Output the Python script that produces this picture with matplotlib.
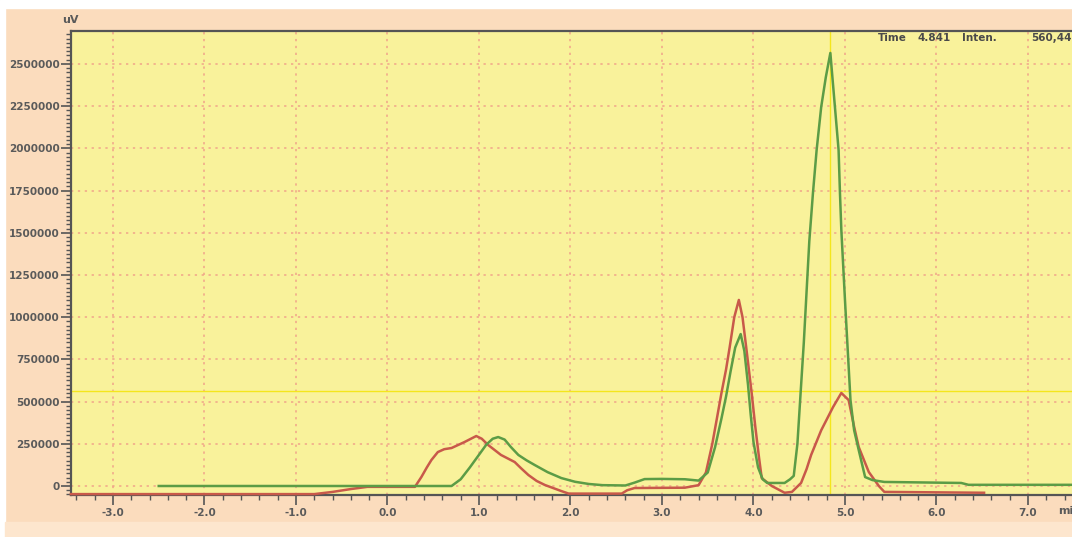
import matplotlib
matplotlib.use("Agg")
import matplotlib.pyplot as plt
from matplotlib.patches import Rectangle
from matplotlib.ticker import MultipleLocator, FormatStrFormatter

# chromatogram traces: retention time (min) and detector signal (uV)
green_t = [-2.50, 0.70, 0.80, 0.90, 1.00, 1.08, 1.15, 1.21, 1.28, 1.35, 1.43, 1.52,
           1.61, 1.75, 1.90, 2.05, 2.20, 2.35, 2.60, 2.70, 2.81, 3.00, 3.25, 3.40,
           3.50, 3.58, 3.65, 3.70, 3.75, 3.80, 3.86, 3.90, 3.94, 3.97, 4.00, 4.05,
           4.10, 4.15, 4.34, 4.40, 4.44, 4.48, 4.51, 4.55, 4.58, 4.61, 4.65, 4.69,
           4.74, 4.79, 4.84, 4.89, 4.93, 4.945, 4.96, 5.00, 5.06, 5.10, 5.15, 5.22,
           5.30, 5.43, 6.27, 6.35, 7.50]
green_uv = [0, 0, 40000, 110000, 185000, 245000, 280000, 290000, 275000, 230000,
            184000, 152000, 124000, 82000, 47000, 25000, 12000, 5000, 3000, 20000,
            41000, 42000, 40000, 32000, 80000, 230000, 400000, 530000, 680000,
            820000, 900000, 800000, 600000, 420000, 260000, 110000, 40000, 18000,
            18000, 40000, 60000, 250000, 509000, 850000, 1150000, 1450000, 1736000,
            1990000, 2245000, 2420000, 2565000, 2245000, 1990000, 1736000, 1517000,
            1100000, 509000, 330000, 213000, 53000, 35000, 24000, 18000, 7000, 7000]

red_t = [-3.46, -0.80, -0.60, -0.40, -0.22, 0.30, 0.37, 0.43, 0.48, 0.55, 0.62,
         0.70, 0.84, 0.97, 1.03, 1.10, 1.24, 1.39, 1.46, 1.54, 1.63, 1.72, 1.90,
         1.98, 2.56, 2.62, 2.70, 3.25, 3.40, 3.48, 3.55, 3.60, 3.65, 3.70, 3.74,
         3.79, 3.84, 3.88, 3.92, 3.98, 4.02, 4.06, 4.09, 4.20, 4.34, 4.42, 4.52,
         4.58, 4.63, 4.74, 4.87, 4.96, 5.00, 5.04, 5.10, 5.15, 5.26, 5.37, 5.43,
         6.52]
red_uv = [-48000, -48000, -35000, -18000, -5000, -5000, 53000, 110000, 154000,
          201000, 218000, 225000, 260000, 296000, 280000, 243000, 184000, 142000,
          105000, 65000, 30000, 6000, -30000, -45000, -45000, -25000, -12000,
          -10000, 5000, 80000, 250000, 400000, 551000, 690000, 823000, 1000000,
          1102000, 1000000, 823000, 551000, 350000, 170000, 47000, 0, -40000,
          -35000, 18000, 100000, 184000, 330000, 468000, 551000, 530000, 509000,
          350000, 231000, 83000, 0, -35000, -40000]

cursor_time = 4.841
cursor_inten = 560447

font = ["Liberation Sans Narrow", "DejaVu Sans"]
label_col = "#5a5a5a"

fig = plt.figure(figsize=(10.72, 5.37), dpi=100)
fig.patch.set_facecolor("#fbdcbd")
# white strip at top/left and lighter band at the bottom of the window
fig.patches.append(Rectangle((0, 1 - 8 / 537), 1, 8 / 537, transform=fig.transFigure,
                             color="white", zorder=0))
fig.patches.append(Rectangle((0, 0), 5 / 1072, 1, transform=fig.transFigure,
                             color="white", zorder=0))
fig.patches.append(Rectangle((5 / 1072, 0), 1, 15 / 537, transform=fig.transFigure,
                             color="#fde6ce", zorder=0))

ax = fig.add_axes([71 / 1072, 1 - 495 / 537, 1 - 71 / 1072, 464 / 537])
ax.set_facecolor("#f9f29b")

ax.set_xlim(-3.459, 7.481)
ax.set_ylim(-53300, 2695000)

ax.xaxis.set_major_locator(MultipleLocator(1.0))
ax.xaxis.set_minor_locator(MultipleLocator(0.2))
ax.yaxis.set_major_locator(MultipleLocator(250000))
ax.yaxis.set_minor_locator(MultipleLocator(25000))
ax.xaxis.set_major_formatter(FormatStrFormatter("%.1f"))
ax.yaxis.set_major_formatter(FormatStrFormatter("%d"))

ax.grid(True, which="major", color="#f0a58a", linestyle=(0, (1.5, 3)), linewidth=1.1)
ax.set_axisbelow(True)

ax.tick_params(axis="both", which="major", direction="out", length=7, width=1.2,
               color="#555555", labelsize=7.5, labelcolor=label_col)
ax.tick_params(axis="both", which="minor", direction="out", length=3.5, width=1.0,
               color="#555555")
ax.tick_params(axis="x", pad=2)
ax.tick_params(axis="y", pad=1)
for lab in ax.get_xticklabels() + ax.get_yticklabels():
    lab.set_family(font)
    lab.set_fontweight("bold")

for side in ["left", "bottom", "top"]:
    ax.spines[side].set_color("#555555")
    ax.spines[side].set_linewidth(1.6)
ax.spines["right"].set_visible(False)

# cursor crosshair
ax.axvline(cursor_time, color="#f4e61c", linewidth=1.0, zorder=2)
ax.axhline(cursor_inten, color="#f4e61c", linewidth=1.0, zorder=2)

ax.plot(red_t, red_uv, color="#c8594a", linewidth=1.8, zorder=3, clip_on=False)
ax.plot(green_t, green_uv, color="#5c9c46", linewidth=1.8, zorder=4)

fig.text(62 / 1072, 1 - 20 / 537, "uV", family=font, fontweight="bold", fontsize=8,
         color=label_col, va="center")
fig.text(1058 / 1072, 1 - 511 / 537, "min", family=font, fontweight="bold", fontsize=8,
         color=label_col, va="center")

cursor_txt = [(878, "Time"), (918, f"{cursor_time:.3f}"), (962, "Inten."),
              (1031, f"{cursor_inten:,}")]
for px, s in cursor_txt:
    fig.text(px / 1072, 1 - 38 / 537, s, family=font, fontweight="bold", fontsize=7.5,
             color="#4a4a4a", va="center")

fig.savefig("out.png", dpi=100, facecolor=fig.get_facecolor())
